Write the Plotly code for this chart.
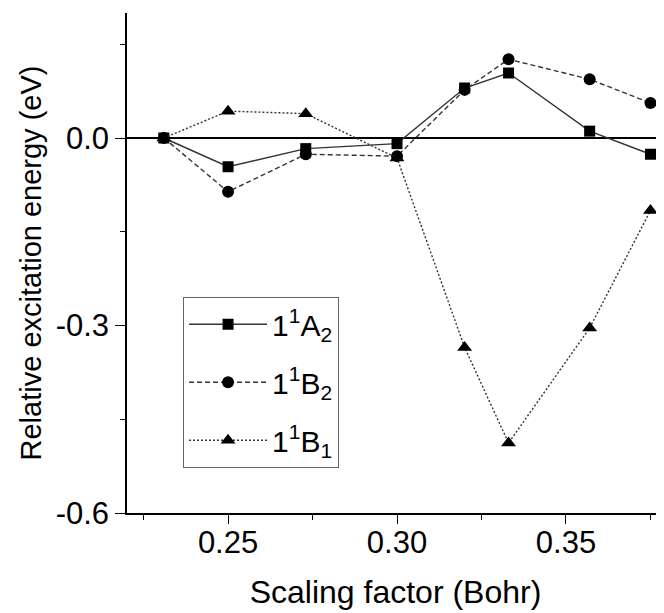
import plotly.graph_objects as go

x_vals = [0.231, 0.250, 0.273, 0.300, 0.320, 0.333, 0.357, 0.375]
a2_vals = [0.0, -0.046, -0.017, -0.009, 0.080, 0.104, 0.011, -0.026]
b2_vals = [0.0, -0.086, -0.026, -0.029, 0.077, 0.126, 0.094, 0.056]
b1_vals = [0.0, 0.043, 0.039, -0.032, -0.335, -0.488, -0.304, -0.116]

names = ["1<sup>1</sup>A<sub>2</sub>", "1<sup>1</sup>B<sub>2</sub>", "1<sup>1</sup>B<sub>1</sub>"]
y_ticks = [-0.6, -0.3, 0.0]
y_ticktext = ["-0.6", "-0.3", "0.0"]
x_ticks = [0.25, 0.30, 0.35]
x_ticktext = ["0.25", "0.30", "0.35"]

FONT = "Liberation Sans, Arial, sans-serif"
fig = go.Figure()
styles = [("solid", "square", 11), ("5px,3px", "circle", 12), ("2px,2px", "triangle-up", 13)]
for i, (vals, name, (dash, sym, ms)) in enumerate(zip([a2_vals, b2_vals, b1_vals], names, styles)):
    fig.add_trace(go.Scatter(
        x=x_vals, y=vals, name=name, mode="lines+markers",
        line=dict(color="#333333", width=1.4, dash=dash),
        marker=dict(symbol=sym, size=ms, color="black"),
        legendgroup=f"g{i}",
    ))

fig.update_layout(
    width=656, height=605,
    margin=dict(l=119, r=0, t=5, b=100),
    paper_bgcolor="white", plot_bgcolor="white",
    font=dict(family=FONT, color="black"),
    showlegend=True,
    legend=dict(
        x=0.104, y=0.432, xanchor="left", yanchor="top",
        bordercolor="#666666", borderwidth=1.2, bgcolor="white",
        font=dict(size=30, family=FONT), tracegroupgap=16,
        itemwidth=78,
    ),
)
fig.update_xaxes(
    range=[0.2201, 0.379], tickvals=x_ticks, ticktext=x_ticktext,
    showline=True, linecolor="black", linewidth=1.5,
    ticks="outside", ticklen=9, tickwidth=1.3, tickcolor="black",
    tickfont=dict(size=31), showgrid=False, zeroline=False, ticklabelstandoff=-8,
    minor=dict(tickvals=[0.225, 0.275, 0.325, 0.375], ticks="outside", ticklen=5, tickwidth=1.2, tickcolor="black"),
    title=dict(text="Scaling factor (Bohr)", font=dict(size=32), standoff=22),
)
fig.update_yaxes(
    range=[-0.6, 0.2], tickvals=y_ticks, ticktext=y_ticktext,
    showline=True, linecolor="black", linewidth=1.5,
    ticks="outside", ticklen=10, tickwidth=1.3, tickcolor="black",
    tickfont=dict(size=31), showgrid=False,
    zeroline=True, zerolinecolor="black", zerolinewidth=1.5,
    minor=dict(tickvals=[-0.45, -0.15, 0.15], ticks="outside", ticklen=5, tickwidth=1.2, tickcolor="black"),
    title=dict(text="Relative excitation energy (eV)", font=dict(size=29), standoff=5),
)
fig.write_html("out.html")
